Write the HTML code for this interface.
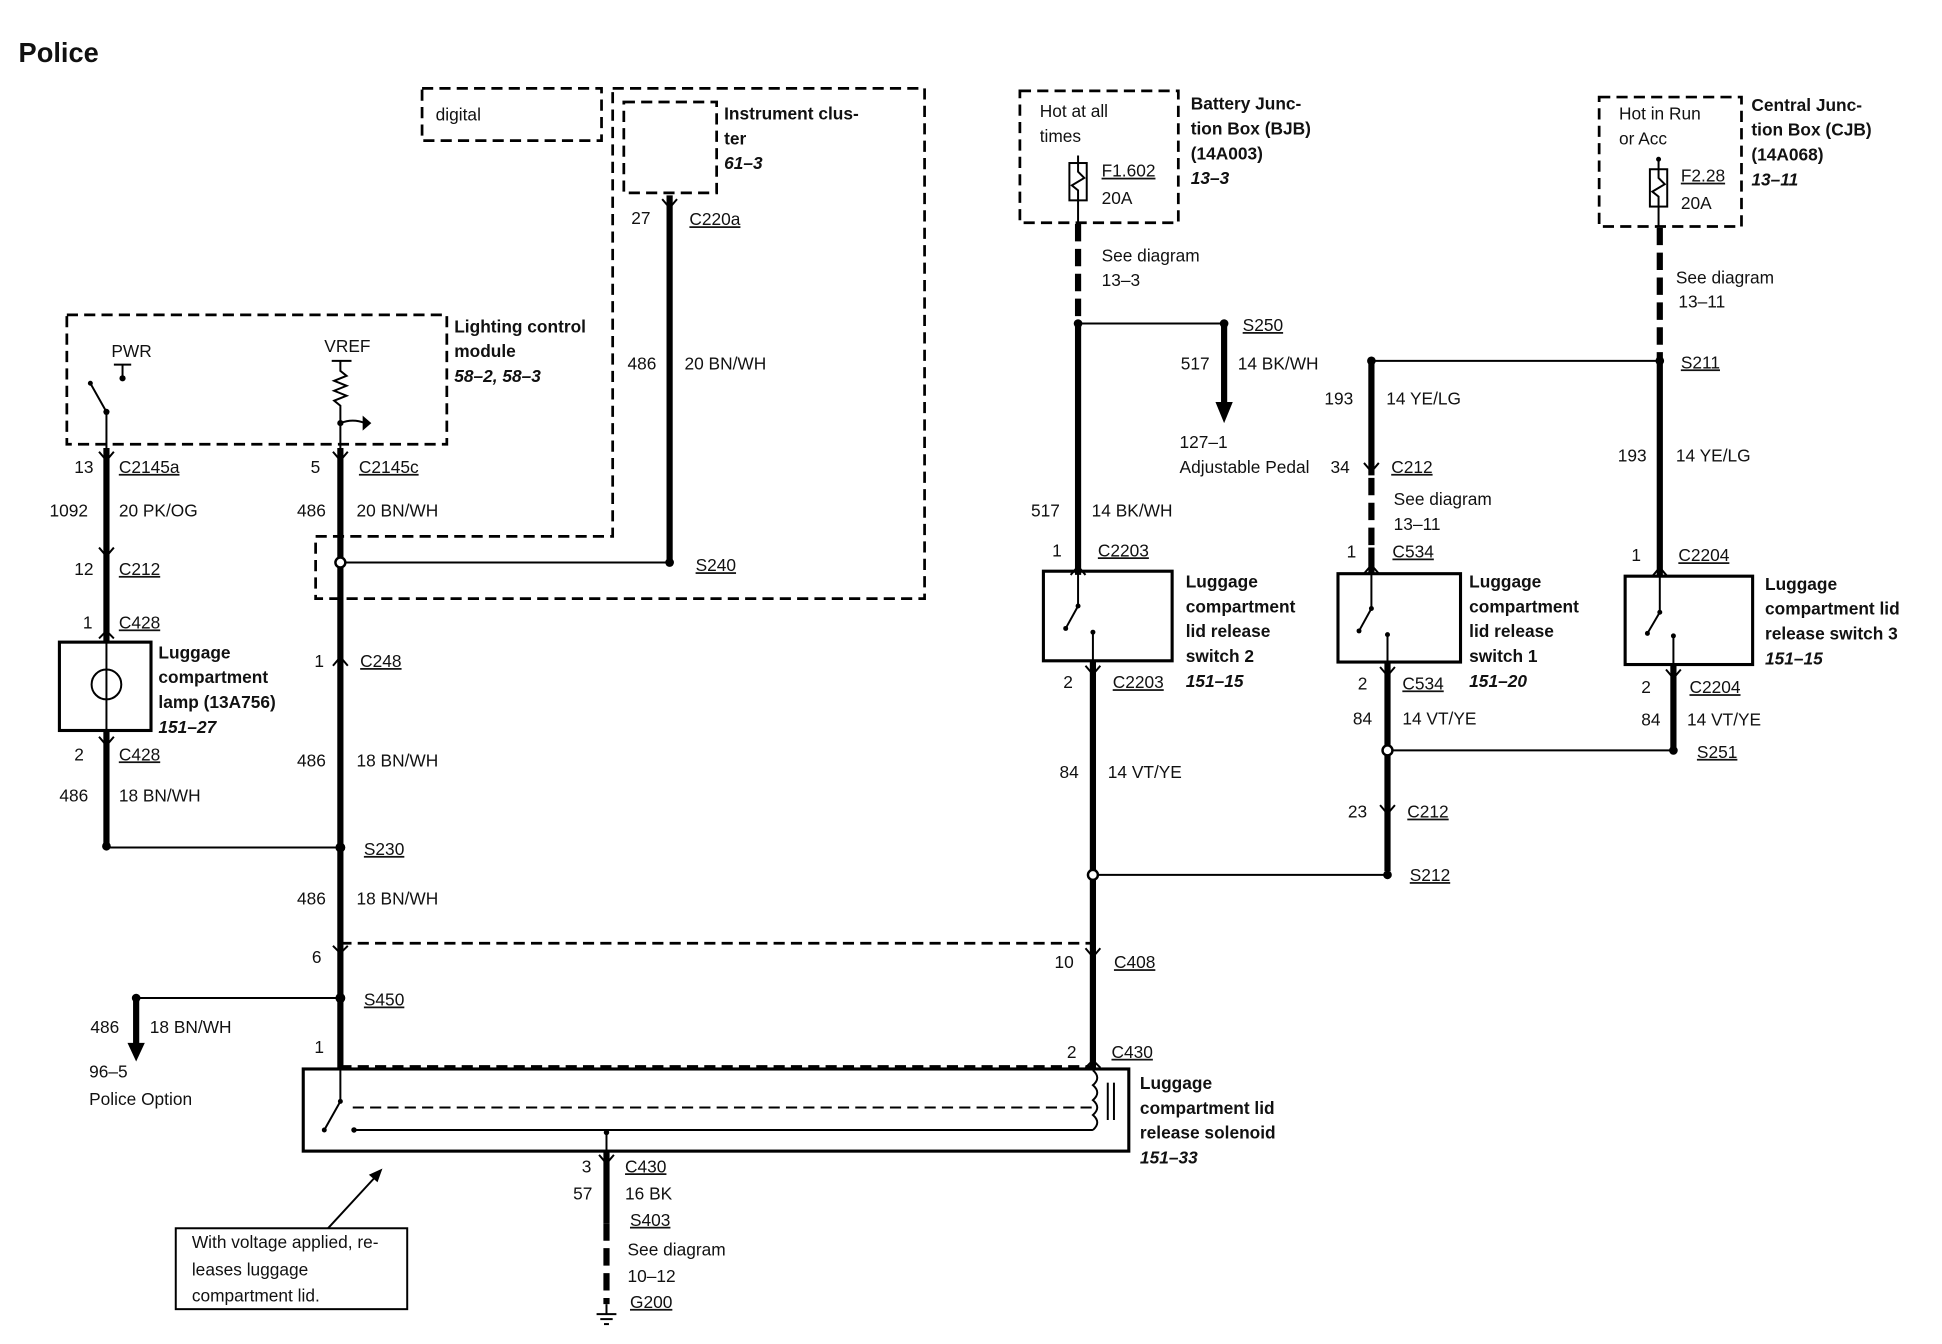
<!DOCTYPE html>
<html><head><meta charset="utf-8"><style>
html,body{margin:0;padding:0;background:#fff;}
svg{display:block;}
text{font-family:"Liberation Sans",sans-serif;font-size:14px;fill:#111;}
.b{font-weight:bold;}
.i{font-weight:bold;font-style:italic;}
.u{text-decoration:underline;}
.w{stroke:#000;stroke-width:5;fill:none;}
.t{stroke:#000;stroke-width:1.6;fill:none;}
.d{stroke:#000;stroke-width:2.2;fill:none;stroke-dasharray:9,5;}
.dw{stroke:#000;stroke-width:5;fill:none;stroke-dasharray:14,6;}
.bx{stroke:#000;stroke-width:2.5;fill:none;}
</style></head><body>
<svg width="1942" height="1344" viewBox="0 0 1569 1080" preserveAspectRatio="none" xmlns="http://www.w3.org/2000/svg">
<text x="15" y="50" class="b" style="font-size:22px">Police</text>

<rect x="341" y="71" width="145" height="42" class="d"/>
<text x="352" y="97">digital</text>
<polyline points="495,71 747,71 747,481 255,481 255,431 495,431 495,71" class="d"/>
<rect x="504" y="82" width="75" height="73" class="d"/>
<text x="585" y="96" class="b">Instrument clus-</text>
<text x="585" y="116" class="b">ter</text>
<text x="585" y="136" class="i">61–3</text>
<line x1="541" y1="157" x2="541" y2="452" class="w"/>
<path d="M535,160 L541,167 L547,160" class="t"/>
<text x="510" y="180">27</text><text x="557" y="181" class="u">C220a</text>
<text x="507" y="297">486</text><text x="553" y="297">20 BN/WH</text>
<circle cx="541" cy="452" r="3.5"/>
<line x1="275" y1="452" x2="541" y2="452" class="t"/>
<text x="562" y="459" class="u">S240</text>

<rect x="54" y="253" width="307" height="104" class="d"/>
<text x="367" y="267" class="b">Lighting control</text>
<text x="367" y="287" class="b">module</text>
<text x="367" y="307" class="i">58–2, 58–3</text>
<text x="90" y="287">PWR</text>
<line x1="92" y1="293" x2="106" y2="293" class="t"/><line x1="99" y1="293" x2="99" y2="304" class="t"/><circle cx="99" cy="304" r="2.5"/>
<line x1="73" y1="308" x2="86" y2="331" class="t"/><circle cx="73" cy="308" r="2"/><circle cx="86" cy="331" r="2.5"/>
<text x="262" y="283">VREF</text>
<line x1="268" y1="290" x2="284" y2="290" class="t"/>
<polyline points="275,290 275,298 280,302 270,306 280,310 270,314 280,318 270,322 275,326 275,340" class="t"/>
<circle cx="275" cy="340" r="2.5"/>
<path d="M275,340 Q285,336 295,340" class="t"/><path d="M293,334 L300,340 L293,346z" fill="#000"/>
<line x1="86" y1="331" x2="86" y2="360" class="t"/>
<line x1="275" y1="340" x2="275" y2="360" class="t"/>

<line x1="86" y1="360" x2="86" y2="516" class="w"/>
<path d="M80,363 L86,370 L92,363" class="t"/>
<path d="M80,440 L86,447 L92,440" class="t"/>
<path d="M80,513 L86,507 L92,513" class="t"/>
<text x="60" y="380">13</text><text x="96" y="380" class="u">C2145a</text>
<text x="40" y="415">1092</text><text x="96" y="415">20 PK/OG</text>
<text x="60" y="462">12</text><text x="96" y="462" class="u">C212</text>
<text x="67" y="505">1</text><text x="96" y="505" class="u">C428</text>
<rect x="48" y="516" width="74" height="71" class="bx"/>
<line x1="86" y1="516" x2="86" y2="587" class="t"/>
<circle cx="86" cy="550" r="12" class="t"/>
<text x="128" y="529" class="b">Luggage</text>
<text x="128" y="549" class="b">compartment</text>
<text x="128" y="569" class="b">lamp (13A756)</text>
<text x="128" y="589" class="i">151–27</text>
<line x1="86" y1="587" x2="86" y2="680" class="w"/>
<path d="M80,592 L86,599 L92,592" class="t"/>
<text x="60" y="611">2</text><text x="96" y="611" class="u">C428</text>
<text x="48" y="644">486</text><text x="96" y="644">18 BN/WH</text>
<circle cx="86" cy="680" r="3.5"/>
<line x1="86" y1="681" x2="275" y2="681" class="t"/>

<line x1="275" y1="360" x2="275" y2="858" class="w"/>
<path d="M269,363 L275,370 L281,363" class="t"/>
<path d="M269,535 L275,528 L281,535" class="t"/>
<text x="251" y="380">5</text><text x="290" y="380" class="u">C2145c</text>
<text x="240" y="415">486</text><text x="288" y="415">20 BN/WH</text>
<circle cx="275" cy="452" r="4" fill="#fff" stroke="#000" stroke-width="2"/>
<text x="254" y="536">1</text><text x="291" y="536" class="u">C248</text>
<text x="240" y="616">486</text><text x="288" y="616">18 BN/WH</text>
<circle cx="275" cy="681" r="4"/>
<text x="294" y="687" class="u">S230</text>
<text x="240" y="727">486</text><text x="288" y="727">18 BN/WH</text>
<text x="252" y="774">6</text>
<path d="M269,760 L275,766 L281,760" class="t"/>
<line x1="275" y1="758" x2="883" y2="758" class="d"/>
<circle cx="275" cy="802" r="4"/>
<text x="294" y="808" class="u">S450</text>
<line x1="110" y1="802" x2="275" y2="802" class="t"/>
<circle cx="110" cy="802" r="3.5"/>
<line x1="110" y1="802" x2="110" y2="840" class="w"/>
<path d="M103,838 L117,838 L110,853z" fill="#000"/>
<text x="73" y="830">486</text><text x="121" y="830">18 BN/WH</text>
<text x="72" y="866">96–5</text><text x="72" y="888">Police Option</text>
<text x="254" y="846">1</text>
<line x1="275" y1="857" x2="883" y2="857" class="d"/>

<rect x="245" y="859" width="667" height="66" class="bx"/>
<line x1="275" y1="859" x2="275" y2="885" class="t"/>
<circle cx="275" cy="885" r="2"/>
<line x1="275" y1="885" x2="262" y2="908" class="t"/><circle cx="262" cy="908" r="2"/>
<line x1="285" y1="890" x2="883" y2="890" class="d" style="stroke-width:1.6"/>
<line x1="285" y1="908" x2="883" y2="908" class="t"/><circle cx="286" cy="908" r="2.2"/>
<path d="M883,860 Q890,866 883,872 Q890,878 883,884 Q890,890 883,896 Q890,902 883,908" class="t"/>
<line x1="895" y1="870" x2="895" y2="900" class="t"/><line x1="900" y1="870" x2="900" y2="900" class="t"/>
<text x="921" y="875" class="b">Luggage</text>
<text x="921" y="895" class="b">compartment lid</text>
<text x="921" y="915" class="b">release solenoid</text>
<text x="921" y="935" class="i">151–33</text>
<line x1="490" y1="908" x2="490" y2="925" class="t"/><circle cx="490" cy="910" r="2.2"/>
<line x1="490" y1="925" x2="490" y2="983" class="w"/>
<path d="M484,928 L490,935 L496,928" class="t"/>
<line x1="490" y1="983" x2="490" y2="1048" class="dw"/>
<line x1="490" y1="1048" x2="490" y2="1056" class="t"/>
<line x1="482" y1="1056" x2="498" y2="1056" class="t"/><line x1="485" y1="1060" x2="495" y2="1060" class="t"/><line x1="488" y1="1064" x2="492" y2="1064" class="t"/>
<text x="470" y="942">3</text><text x="505" y="942" class="u">C430</text>
<text x="463" y="964">57</text><text x="505" y="964">16 BK</text>
<text x="509" y="985" class="u">S403</text>
<text x="507" y="1009">See diagram</text>
<text x="507" y="1030">10–12</text>
<text x="509" y="1051" class="u">G200</text>
<rect x="142" y="987" width="187" height="65" class="t"/>
<text x="155" y="1003">With voltage applied, re-</text>
<text x="155" y="1025">leases luggage</text>
<text x="155" y="1046">compartment lid.</text>
<line x1="265" y1="987" x2="303" y2="946" class="t"/>
<path d="M309,939 L298,944 L305,950z" fill="#000"/>

<rect x="824" y="73" width="128" height="106" class="d"/>
<text x="840" y="94">Hot at all</text><text x="840" y="114">times</text>
<rect x="864" y="131" width="14" height="30" class="t"/>
<polyline points="871,125 871,138 876,143 866,149 871,153 871,179" class="t"/>
<text x="890" y="142" class="u">F1.602</text><text x="890" y="164">20A</text>
<text x="962" y="88" class="b">Battery Junc-</text>
<text x="962" y="108" class="b">tion Box (BJB)</text>
<text x="962" y="128" class="b">(14A003)</text>
<text x="962" y="148" class="i">13–3</text>
<line x1="871" y1="180" x2="871" y2="258" class="dw"/>
<line x1="871" y1="262" x2="871" y2="462" class="w"/>
<path d="M865,462 L871,455 L877,462" class="t"/>
<text x="890" y="210">See diagram</text><text x="890" y="230">13–3</text>
<circle cx="871" cy="260" r="3.5"/>
<line x1="871" y1="260" x2="989" y2="260" class="t"/>
<circle cx="989" cy="260" r="3.5"/>
<text x="1004" y="266" class="u">S250</text>
<line x1="989" y1="262" x2="989" y2="325" class="w"/>
<path d="M982,323 L996,323 L989,340z" fill="#000"/>
<text x="954" y="297">517</text><text x="1000" y="297">14 BK/WH</text>
<text x="953" y="360">127–1</text><text x="953" y="380">Adjustable Pedal</text>
<text x="833" y="415">517</text><text x="882" y="415">14 BK/WH</text>
<text x="850" y="447">1</text><text x="887" y="447" class="u">C2203</text>
<rect x="843" y="459" width="104" height="72" class="bx"/>
<line x1="871" y1="459" x2="871" y2="487" class="t"/><circle cx="871" cy="487" r="2"/>
<line x1="871" y1="487" x2="861" y2="505" class="t"/><circle cx="861" cy="505" r="2"/>
<line x1="883" y1="508" x2="883" y2="531" class="t"/><circle cx="883" cy="508" r="2"/>
<text x="958" y="472" class="b">Luggage</text>
<text x="958" y="492" class="b">compartment</text>
<text x="958" y="512" class="b">lid release</text>
<text x="958" y="532" class="b">switch 2</text>
<text x="958" y="552" class="i">151–15</text>
<line x1="883" y1="531" x2="883" y2="858" class="w"/>
<path d="M877,535 L883,542 L889,535" class="t"/>
<path d="M877,762 L883,769 L889,762" class="t"/>
<path d="M877,858 L883,852 L889,858" class="t"/>
<text x="859" y="553">2</text><text x="899" y="553" class="u">C2203</text>
<text x="856" y="625">84</text><text x="895" y="625">14 VT/YE</text>
<circle cx="883" cy="703" r="4" fill="#fff" stroke="#000" stroke-width="2"/>
<line x1="887" y1="703" x2="1121" y2="703" class="t"/>
<circle cx="1121" cy="703" r="3.5"/>
<text x="1139" y="708" class="u">S212</text>
<text x="852" y="778">10</text><text x="900" y="778" class="u">C408</text>
<text x="862" y="850">2</text><text x="898" y="850" class="u">C430</text>

<circle cx="1108" cy="290" r="3.5"/>
<line x1="1108" y1="290" x2="1341" y2="290" class="t"/>
<line x1="1108" y1="292" x2="1108" y2="382" class="w"/>
<path d="M1102,372 L1108,379 L1114,372" class="t"/>
<line x1="1108" y1="384" x2="1108" y2="440" class="dw"/>
<line x1="1108" y1="440" x2="1108" y2="461" class="w"/>
<path d="M1102,461 L1108,454 L1114,461" class="t"/>
<text x="1070" y="325">193</text><text x="1120" y="325">14 YE/LG</text>
<text x="1075" y="380">34</text><text x="1124" y="380" class="u">C212</text>
<text x="1126" y="406">See diagram</text><text x="1126" y="426">13–11</text>
<text x="1088" y="448">1</text><text x="1125" y="448" class="u">C534</text>
<rect x="1081" y="461" width="99" height="71" class="bx"/>
<line x1="1108" y1="461" x2="1108" y2="489" class="t"/><circle cx="1108" cy="489" r="2"/>
<line x1="1108" y1="489" x2="1098" y2="507" class="t"/><circle cx="1098" cy="507" r="2"/>
<line x1="1121" y1="510" x2="1121" y2="532" class="t"/><circle cx="1121" cy="510" r="2"/>
<text x="1187" y="472" class="b">Luggage</text>
<text x="1187" y="492" class="b">compartment</text>
<text x="1187" y="512" class="b">lid release</text>
<text x="1187" y="532" class="b">switch 1</text>
<text x="1187" y="552" class="i">151–20</text>
<line x1="1121" y1="532" x2="1121" y2="700" class="w"/>
<path d="M1115,536 L1121,543 L1127,536" class="t"/>
<path d="M1115,647 L1121,654 L1127,647" class="t"/>
<text x="1097" y="554">2</text><text x="1133" y="554" class="u">C534</text>
<text x="1093" y="582">84</text><text x="1133" y="582">14 VT/YE</text>
<circle cx="1121" cy="603" r="4" fill="#fff" stroke="#000" stroke-width="2"/>
<line x1="1125" y1="603" x2="1352" y2="603" class="t"/>
<text x="1089" y="657">23</text><text x="1137" y="657" class="u">C212</text>

<rect x="1292" y="78" width="115" height="104" class="d"/>
<text x="1308" y="96">Hot in Run</text><text x="1308" y="116">or Acc</text>
<rect x="1333" y="136" width="14" height="30" class="t"/>
<polyline points="1340,128 1340,143 1345,148 1335,154 1340,158 1340,182" class="t"/>
<circle cx="1340" cy="128" r="2"/>
<text x="1358" y="146" class="u">F2.28</text><text x="1358" y="168">20A</text>
<text x="1415" y="89" class="b">Central Junc-</text>
<text x="1415" y="109" class="b">tion Box (CJB)</text>
<text x="1415" y="129" class="b">(14A068)</text>
<text x="1415" y="149" class="i">13–11</text>
<line x1="1341" y1="183" x2="1341" y2="288" class="dw"/>
<circle cx="1341" cy="290" r="3.5"/>
<line x1="1341" y1="292" x2="1341" y2="463" class="w"/>
<path d="M1335,463 L1341,456 L1347,463" class="t"/>
<text x="1354" y="228">See diagram</text><text x="1356" y="247">13–11</text>
<text x="1358" y="296" class="u">S211</text>
<text x="1307" y="371">193</text><text x="1354" y="371">14 YE/LG</text>
<text x="1318" y="451">1</text><text x="1356" y="451" class="u">C2204</text>
<rect x="1313" y="463" width="103" height="71" class="bx"/>
<line x1="1341" y1="463" x2="1341" y2="492" class="t"/><circle cx="1341" cy="492" r="2"/>
<line x1="1341" y1="492" x2="1331" y2="509" class="t"/><circle cx="1331" cy="509" r="2"/>
<line x1="1352" y1="511" x2="1352" y2="534" class="t"/><circle cx="1352" cy="511" r="2"/>
<text x="1426" y="474" class="b">Luggage</text>
<text x="1426" y="494" class="b">compartment lid</text>
<text x="1426" y="514" class="b">release switch 3</text>
<text x="1426" y="534" class="i">151–15</text>
<line x1="1352" y1="534" x2="1352" y2="601" class="w"/>
<path d="M1346,538 L1352,545 L1358,538" class="t"/>
<circle cx="1352" cy="603" r="3.5"/>
<text x="1326" y="557">2</text><text x="1365" y="557" class="u">C2204</text>
<text x="1326" y="583">84</text><text x="1363" y="583">14 VT/YE</text>
<text x="1371" y="609" class="u">S251</text>
</svg>
</body></html>
